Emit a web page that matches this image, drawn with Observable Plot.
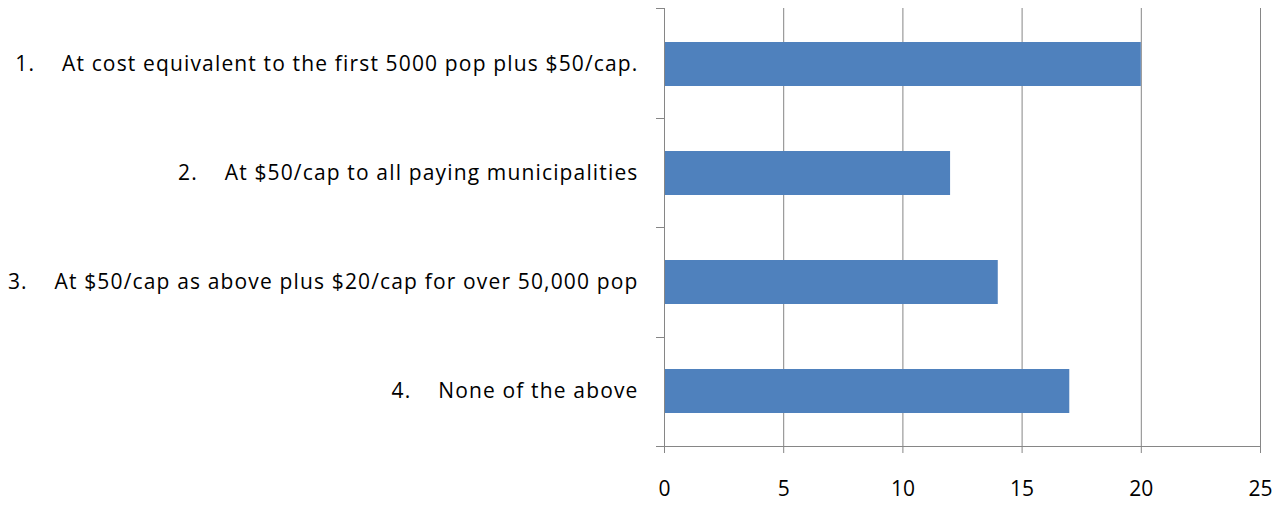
<!DOCTYPE html>
<html><head><meta charset="utf-8">
<script src="https://cdn.jsdelivr.net/npm/d3@7"></script>
<script src="https://cdn.jsdelivr.net/npm/@observablehq/plot@0.6"></script>
<style>
body{margin:0;background:#fff}
g[aria-label="y-axis tick label"] text{letter-spacing:1.15px}
</style>
</head><body><div id="chart"></div>
<script>
const itemNumbers = ["1.", "2.", "3.", "4."];
const itemTexts = [
  "At cost equivalent to the first 5000 pop plus $50/cap.",
  "At $50/cap to all paying municipalities",
  "At $50/cap as above plus $20/cap for over 50,000 pop",
  "None of the above"
];
const counts = [20, 12, 14, 17];
const xTicks = [0, 5, 10, 15, 20, 25];

const data = itemTexts.map((t, i) => ({key: itemNumbers[i] + "\u2003\u2006" + t, value: counts[i]}));
const keys = data.map(d => d.key);
const gray = "#868686";

// left-axis boundary ticks + axis lines, derived from plot dimensions
function frameLines(index, scales, values, dims) {
  const g = d3.create("svg:g").attr("stroke", gray).attr("stroke-width", 1);
  const top = dims.marginTop, bottom = dims.height - dims.marginBottom;
  const left = dims.marginLeft, right = dims.width - dims.marginRight;
  const n = keys.length, step = (bottom - top) / n;
  for (let i = 0; i <= n; i++) {
    const yy = Math.round(top + i * step) + 0.5;
    g.append("line").attr("x1", left - 8).attr("x2", left).attr("y1", yy).attr("y2", yy);
  }
  g.append("line").attr("x1", left - 8).attr("x2", right).attr("y1", bottom + 0.5).attr("y2", bottom + 0.5);
  g.append("line").attr("x1", left + 0.5).attr("x2", left + 0.5).attr("y1", top).attr("y2", bottom);
  return g.node();
}

const chart = Plot.plot({
  width: 1286,
  height: 506,
  marginTop: 8,
  marginBottom: 60,
  marginLeft: 664,
  marginRight: 26,
  style: {fontSize: "21px", fontFamily: "Open Sans", color: "black", background: "white"},
  x: {domain: [0, 25], ticks: xTicks},
  y: {domain: keys, paddingInner: 0.6, paddingOuter: 0.3},
  marks: [
    Plot.gridX(xTicks.filter(d => d > 0), {stroke: gray, strokeOpacity: 1}),
    Plot.barX(data, {x: "value", y: "key", fill: "#4f81bd"}),
    Plot.axisX(xTicks, {tickSize: 7, tickPadding: 28, stroke: gray, fill: "black", label: null}),
    Plot.axisY({tickSize: 0, tickPadding: 26, fill: "black", label: null}),
    frameLines
  ]
});
document.getElementById("chart").append(chart);
</script>
</body></html>
